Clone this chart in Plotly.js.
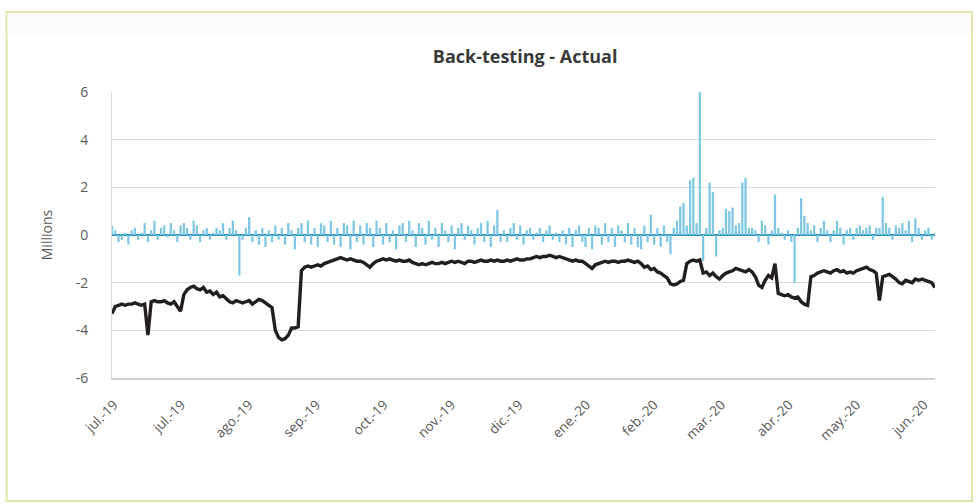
<!DOCTYPE html>
<html>
<head>
<meta charset="utf-8">
<script src="https://cdn.plot.ly/plotly-3.0.1.min.js"></script>
<style>html,body{margin:0;padding:0;background:#fff;}#chart{width:977px;height:504px;}</style>
</head>
<body>
<div id="chart"></div>
<script>
// Tick labels (Excel category axis, one label roughly every 21 trading days)
const tickLabels = ["jul.-19","jul.-19","ago.-19","sep.-19","oct.-19","nov.-19","dic.-19","ene.-20","feb.-20","mar.-20","abr.-20","may.-20","jun.-20"];

// Daily P&L (millions) – light blue columns
const pnl = [
 0.4, 0.2,-0.3,-0.2, 0.1,-0.4, 0.2, 0.3,-0.2, 0.1,
 0.5,-0.3, 0.2, 0.6,-0.2, 0.3, 0.4,-0.1, 0.5, 0.2,
-0.3, 0.4, 0.5, 0.3,-0.2, 0.6, 0.4,-0.3, 0.2, 0.3,
-0.2, 0.1, 0.3, 0.2, 0.5,-0.2, 0.3, 0.6, 0.2,-1.7,
-0.2, 0.3, 0.75,-0.3, 0.2,-0.4, 0.3,-0.5, 0.2,-0.3,
 0.4,-0.2, 0.3,-0.4, 0.5, 0.2,-0.6, 0.3, 0.5,-0.3,
 0.6,-0.4, 0.3,-0.5, 0.5, 0.4,-0.3, 0.6,-0.4, 0.3,
-0.5, 0.5, 0.4,-0.6, 0.6,-0.3, 0.4,-0.4, 0.5, 0.3,
-0.5, 0.6, 0.3,-0.4, 0.5,-0.3, 0.2,-0.6, 0.4, 0.5,
-0.3, 0.6, 0.2,-0.5, 0.5, 0.3,-0.4, 0.6,-0.2, 0.3,
-0.5, 0.5, 0.2,-0.3, 0.4,-0.6, 0.3, 0.5,-0.2, 0.4,
 0.2,-0.4, 0.3, 0.5,-0.3, 0.6,-0.5, 0.4, 1.05,-0.3,
 0.2,-0.3, 0.3, 0.5,-0.2, 0.4,-0.4, 0.2, 0.3,-0.2,
 0.1, 0.3,-0.3, 0.2, 0.4,-0.2, 0.1,-0.3, 0.2,-0.4,
 0.3,-0.5, 0.2, 0.4,-0.3,-0.5, 0.3,-0.6, 0.4, 0.3,
-0.4, 0.5,-0.3, 0.3,-0.5, 0.4, 0.2,-0.3, 0.5,-0.4,
 0.3,-0.5,-0.6, 0.4,-0.3, 0.85,-0.4, 0.3,-0.5, 0.4,
-0.3,-0.8, 0.3, 0.6, 1.2, 1.35, 0.4, 2.3, 2.4, 0.5,
 6.0,-1.1, 0.3, 2.2, 1.8,-0.9, 0.2, 0.3, 1.1, 1.0,
 1.15, 0.4, 0.5, 2.2, 2.4, 0.3, 0.3, 0.2,-0.3, 0.6,
 0.4,-0.4, 0.2, 1.7, 0.3, 0.1,-0.2, 0.2,-0.3,-2.0,
 0.3, 1.55, 0.8, 0.5, 0.2, 0.4,-0.3, 0.3, 0.6, 0.2,
-0.3, 0.2, 0.6, 0.3,-0.4, 0.2, 0.3,-0.2, 0.3, 0.4,
 0.2, 0.3, 0.4,-0.2, 0.3, 0.3, 1.6, 0.5, 0.3,-0.2,
 0.4, 0.3, 0.5, 0.2, 0.6,-0.3, 0.7, 0.3,-0.2, 0.2,
 0.3,-0.2, 0.1
];

// VaR (millions) – black line
const varLine = [
-3.3,-3.0,-2.95,-2.9,-2.95,-2.9,-2.9,-2.85,-2.9,-2.95,
-2.9,-4.2,-2.8,-2.75,-2.8,-2.8,-2.75,-2.85,-2.9,-2.8,
-3.0,-3.2,-2.5,-2.3,-2.2,-2.15,-2.25,-2.3,-2.2,-2.4,
-2.35,-2.5,-2.4,-2.6,-2.55,-2.7,-2.8,-2.85,-2.75,-2.8,
-2.85,-2.8,-2.75,-2.9,-2.8,-2.7,-2.75,-2.85,-2.95,-3.05,
-4.0,-4.3,-4.4,-4.35,-4.2,-3.9,-3.9,-3.85,-1.5,-1.35,
-1.3,-1.35,-1.3,-1.25,-1.3,-1.2,-1.15,-1.1,-1.05,-1.0,
-0.95,-1.0,-1.05,-1.0,-1.05,-1.1,-1.1,-1.15,-1.25,-1.35,
-1.2,-1.1,-1.05,-1.0,-1.05,-1.0,-1.05,-1.1,-1.05,-1.1,
-1.1,-1.05,-1.15,-1.2,-1.25,-1.2,-1.25,-1.2,-1.15,-1.2,
-1.2,-1.15,-1.2,-1.15,-1.1,-1.15,-1.1,-1.15,-1.2,-1.1,
-1.1,-1.15,-1.1,-1.05,-1.1,-1.1,-1.05,-1.1,-1.05,-1.1,
-1.1,-1.05,-1.1,-1.05,-1.0,-1.05,-1.05,-1.0,-1.0,-0.95,
-0.9,-0.95,-0.9,-0.9,-0.85,-0.9,-0.95,-0.9,-0.95,-1.0,
-1.05,-1.1,-1.05,-1.1,-1.1,-1.2,-1.3,-1.4,-1.25,-1.2,
-1.15,-1.1,-1.15,-1.1,-1.1,-1.15,-1.1,-1.1,-1.05,-1.1,
-1.15,-1.1,-1.2,-1.35,-1.3,-1.45,-1.4,-1.55,-1.6,-1.7,
-1.8,-2.05,-2.1,-2.05,-1.95,-1.9,-1.2,-1.1,-1.05,-1.1,
-1.05,-1.6,-1.55,-1.7,-1.6,-1.75,-1.85,-1.7,-1.6,-1.55,
-1.5,-1.4,-1.45,-1.5,-1.55,-1.45,-1.55,-1.75,-2.1,-2.2,
-1.9,-1.7,-1.8,-1.2,-2.45,-2.5,-2.55,-2.5,-2.6,-2.65,
-2.6,-2.8,-2.9,-2.95,-1.75,-1.7,-1.6,-1.55,-1.5,-1.55,
-1.6,-1.5,-1.45,-1.55,-1.5,-1.6,-1.55,-1.6,-1.5,-1.45,
-1.4,-1.35,-1.45,-1.5,-1.6,-2.75,-1.75,-1.7,-1.65,-1.75,
-1.85,-2.0,-2.05,-1.9,-1.95,-2.0,-1.85,-1.9,-1.85,-1.9,
-1.95,-2.0,-2.2
];

const idx = pnl.map((_, i) => i);
// label placement along the category axis (layout only)
const labelStart = 0.6, labelStep = 20.67;
const tickPos = tickLabels.map((_, k) => labelStart + k * labelStep);

const traces = [
  {type: 'bar', x: idx, y: pnl, marker: {color: '#7fc7e3', line: {width: 0}}, hoverinfo: 'y', showlegend: false},
  {type: 'scatter', mode: 'lines', x: idx, y: varLine, line: {color: '#231f20', width: 3.4}, hoverinfo: 'y', showlegend: false}
];

const layout = {
  width: 977, height: 504,
  paper_bgcolor: '#ffffff', plot_bgcolor: '#ffffff',
  margin: {l: 112, r: 42, t: 92, b: 126},
  bargap: 0.3,
  font: {family: 'Open Sans, sans-serif', color: '#595959'},
  title: {text: '<b>Back-testing - Actual</b>', x: 0.5375, xanchor: 'center', y: 0.888, yanchor: 'middle',
          font: {size: 18, color: '#3a3a3a', family: 'Open Sans, sans-serif'}},
  xaxis: {
    range: [0, 252], tickmode: 'array', tickvals: tickPos, ticktext: tickLabels,
    tickangle: -45, tickfont: {size: 13.5, color: '#595959'}, showgrid: false,
    showline: true, linecolor: '#d0d0d0', linewidth: 1.5, ticks: '', zeroline: false,
    ticklabelstandoff: 12
  },
  yaxis: {
    range: [-6, 6], tickvals: [-6, -4, -2, 0, 2, 4, 6], ticktext: ['-6','-4','-2','0','2','4','6'],
    tickfont: {size: 14, color: '#595959'}, gridcolor: '#d9d9d9', gridwidth: 1.2,
    showline: true, linecolor: '#d9d9d9', linewidth: 1, ticks: '',
    zeroline: true, zerolinecolor: '#2f93b8', zerolinewidth: 2,
    ticklabelstandoff: 20,
    title: {text: 'Millions', font: {size: 14, color: '#595959'}, standoff: 19}
  },
  shapes: [
    {type: 'rect', xref: 'paper', yref: 'paper', x0: -0.128, x1: 1.045, y0: -0.43, y1: 1.28,
     line: {color: '#dbe8a6', width: 2}, fillcolor: 'rgba(0,0,0,0)', layer: 'below'},
    {type: 'rect', xref: 'paper', yref: 'paper', x0: -0.127, x1: 1.044, y0: 1.195, y1: 1.277,
     line: {width: 0}, fillcolor: '#fbfbfb', layer: 'below'}
  ]
};

Plotly.newPlot('chart', traces, layout, {displayModeBar: false, staticPlot: true});
</script>
</body>
</html>
